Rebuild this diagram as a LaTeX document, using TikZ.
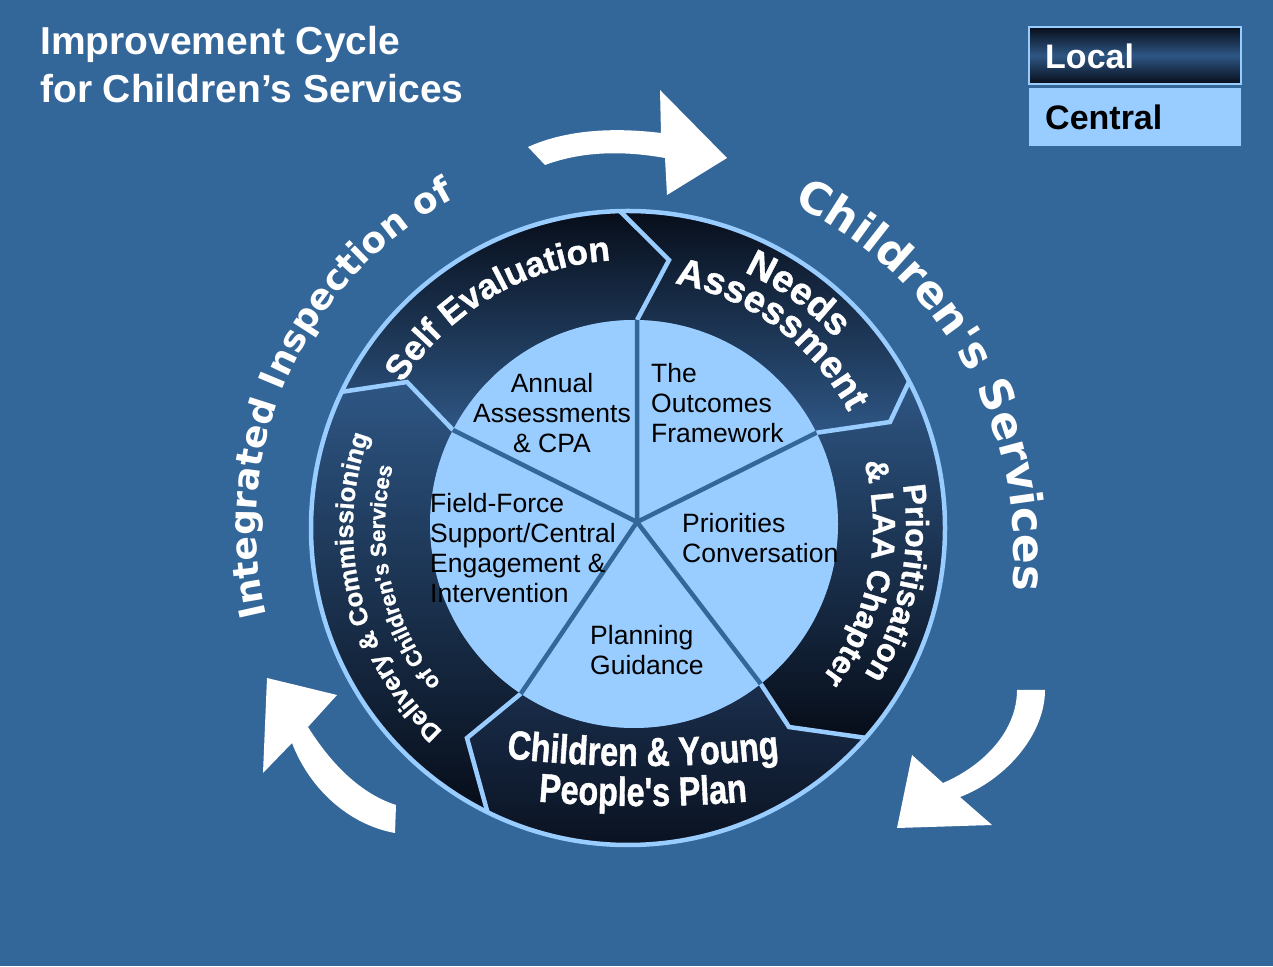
\documentclass[tikz,border=0pt]{standalone}
\usepackage{fontspec}
\setmainfont{Liberation Sans}
\newfontfamily\ringfont[FakeBold=1]{Liberation Sans}
\newfontfamily\narrowfont[FakeStretch=0.8, FakeBold=1]{Liberation Sans}
\newfontfamily\heavyfont{DejaVu Sans}
\usepackage{xcolor}
\usepackage{tikz}
\usetikzlibrary{calc, decorations.text}

\definecolor{bgblue}{RGB}{51,102,153}
\definecolor{paleblue}{RGB}{153,204,255}
\definecolor{ringdark}{RGB}{7,13,25}
\definecolor{ringmid}{RGB}{46,86,132}
\definecolor{ringlow}{RGB}{26,46,76}

\begin{document}
\begin{tikzpicture}[x=1pt, y=1pt,
  every node/.style={inner sep=0pt},
  ringline/.style={paleblue, line width=4.5pt},
  spoke/.style={bgblue, line width=4.5pt},
  flowarrow/.style={fill=white},
  arctext/.style={decorate, decoration={text along path, text align=center, text color=white, text={#1}}},
  innertext/.style={font=\fontsize{26.5}{30}\selectfont, text=black, align=left},
  titletext/.style={font=\bfseries\fontsize{39}{44}\selectfont, text=white},
  keytext/.style={font=\bfseries\fontsize{34}{40}\selectfont}]

% ------------------------------------------------------------------
% BACKGROUND
% ------------------------------------------------------------------
\useasboundingbox (0,0) rectangle (1273,966);
\fill[bgblue] (0,0) rectangle (1273,966);

\node[titletext, anchor=base west] (title1) at (40,911) {Improvement Cycle};
\node[titletext, anchor=base west] (title2) at (40,863) {for Children’s Services};

% ------------------------------------------------------------------
% KEY
% ------------------------------------------------------------------
\shade[top color=ringdark, bottom color=ringdark, middle color=ringmid, draw=paleblue, line width=1.5pt]
  (1029,882) rectangle (1241,939);
\fill[paleblue] (1029,820) rectangle (1241,878);
\node[keytext, text=white, anchor=west] (local) at (1045,910) {Local};
\node[keytext, text=black, anchor=west] (central) at (1045,849) {Central};

% ------------------------------------------------------------------
% RING POINTS
% ------------------------------------------------------------------
\coordinate (Cin) at (634,442);
\coordinate (Cout) at (628,438);
\coordinate (hub) at (637,444);

\path ($(Cin)+(89.15:204pt)$) coordinate (in1)
      (669,706) coordinate (mid1)
      ($(Cout)+(91.45:317pt)$) coordinate (out1);
\path ($(Cin)+(26.57:204pt)$) coordinate (in2)
      (890,544) coordinate (mid2)
      ($(Cout)+(27.53:317pt)$) coordinate (out2);
\path ($(Cin)+(-51.6:204pt)$) coordinate (in3)
      (789,239) coordinate (mid3)
      ($(Cout)+(-41.46:317pt)$) coordinate (out3);
\path ($(Cin)+(-123.7:204pt)$) coordinate (in4)
      (467,228) coordinate (mid4)
      ($(Cout)+(-116.32:317pt)$) coordinate (out4);
\path ($(Cin)+(152.56:204pt)$) coordinate (in5)
      (407,584) coordinate (mid5)
      ($(Cout)+(154.56:317pt)$) coordinate (out5);

% Ring segments, each with its own shading
\foreach \a/\b/\ao/\bo/\bi/\ai/\ct/\cb in {
    5/1/154.56/91.45/89.15/152.56/ringdark/ringmid,
    1/2/91.45/27.53/26.57/89.15/ringdark/ringmid,
    2/3/27.53/-41.46/-51.6/26.57/ringmid/ringdark,
    3/4/-41.46/-116.32/-123.7/-51.6/ringlow/ringdark,
    4/5/-116.32/-205.44/-207.44/-123.7/ringmid/ringdark} {
  \shade[top color=\ct, bottom color=\cb]
    (in\a) -- (mid\a) -- (out\a)
    arc[start angle=\ao, end angle=\bo, radius=317pt]
    -- (mid\b) -- (in\b)
    arc[start angle=\bi, end angle=\ai, radius=204pt] -- cycle;
}

\foreach \k in {1,...,5}
  \draw[ringline] (in\k) -- (mid\k) -- (out\k);
\draw[ringline] (Cout) circle[radius=317pt];

% ------------------------------------------------------------------
% INNER DISK
% ------------------------------------------------------------------
\fill[paleblue] (Cin) circle[radius=204pt];
\foreach \k in {1,...,5}
  \draw[spoke] (hub) -- (in\k);

\node[innertext, align=center] (annual) at (552,553) {Annual\\Assessments\\\& CPA};
\node[innertext, anchor=west] (outcomes) at (651,563) {The\\Outcomes\\Framework};
\node[innertext, anchor=west] (priorities) at (682,428) {Priorities\\Conversation};
\node[innertext, anchor=west] (planning) at (590,315.5) {Planning\\Guidance};
\node[innertext, anchor=west] (fieldforce) at (430,418) {Field-Force\\Support/Central\\Engagement \&\\Intervention};

% ------------------------------------------------------------------
% RING LABELS
% ------------------------------------------------------------------
\path[arctext={|\ringfont\bfseries\fontsize{35}{40}\selectfont|Self Evaluation}]
  ($(Cout)+(151.5:268pt)$) arc[start angle=151.5, end angle=89.5, radius=268pt];
\path[arctext={|\ringfont\bfseries\fontsize{38}{40}\selectfont|Needs}]
  ($(Cout)+(90:281pt)$) arc[start angle=90, end angle=18, radius=281pt];
\path[arctext={|\ringfont\bfseries\fontsize{38}{40}\selectfont|Assessment}]
  ($(Cout)+(90:249pt)$) arc[start angle=90, end angle=17, radius=249pt];
\path[arctext={|\ringfont\bfseries\fontsize{32}{36}\selectfont|Prioritisation}]
  ($(Cout)+(30:278pt)$) arc[start angle=30, end angle=-53, radius=278pt];
\path[arctext={|\ringfont\bfseries\fontsize{32}{36}\selectfont|{\&} LAA Chapter}]
  ($(Cout)+(30:245pt)$) arc[start angle=30, end angle=-52, radius=245pt];
\path[arctext={|\ringfont\bfseries\fontsize{25.5}{30}\selectfont|Delivery {\&} Commissioning}]
  ($(Cout)+(240:275pt)$) arc[start angle=240, end angle=148, radius=275pt];
\path[arctext={|\ringfont\bfseries\fontsize{22}{26}\selectfont|of Children's Services}]
  ($(Cout)+(230:243pt)$) arc[start angle=230, end angle=155, radius=243pt];

\coordinate (cyp) at (643,1400);
\path[arctext={|\narrowfont\bfseries\fontsize{40.5}{44}\selectfont|Children {\&} Young}]
  ($(cyp)+(-97:1200pt)$) arc[start angle=-97, end angle=-83, radius=1200pt];
\path[arctext={|\narrowfont\bfseries\fontsize{40.5}{44}\selectfont|People's Plan}]
  ($(cyp)+(-96:1240pt)$) arc[start angle=-96, end angle=-84, radius=1240pt];

% ------------------------------------------------------------------
% OUTER LABELS AND ARROWS
% ------------------------------------------------------------------
\coordinate (Cright) at (628,412);
\path[arctext={|\heavyfont\bfseries\fontsize{36}{40}\selectfont|Integrated Inspection of}]
  ($(Cout)+(200.65:372pt)$) arc[start angle=200.65, end angle=110.65, radius=372pt];
\path[arctext={|\heavyfont\bfseries\fontsize{44}{50}\selectfont|Children's Services}]
  ($(Cright)+(74.65:386pt)$) arc[start angle=74.65, end angle=-15.35, radius=386pt];

% top arrow
\fill[flowarrow] (528,819) .. controls (570,838) and (620,838) .. (661,833)
  -- (660,876) -- (727,808) -- (667,771) -- (665,808)
  .. controls (620,816) and (580,814) .. (545,801) -- cycle;
% lower right arrow
\fill[flowarrow] (1017,276) -- (1045,276) .. controls (1045,231) and (1005,186) .. (960,169)
  -- (992,141) -- (897,138) -- (912,211) -- (943,183)
  .. controls (985,201) and (1017,236) .. (1017,276) -- cycle;
% lower left arrow
\fill[flowarrow] (267,288) -- (337,271) -- (308,239)
  .. controls (335,196) and (365,171) .. (396,161) -- (395,133)
  .. controls (350,141) and (310,176) .. (292,223) -- (263,193) -- cycle;

\end{tikzpicture}
\end{document}
